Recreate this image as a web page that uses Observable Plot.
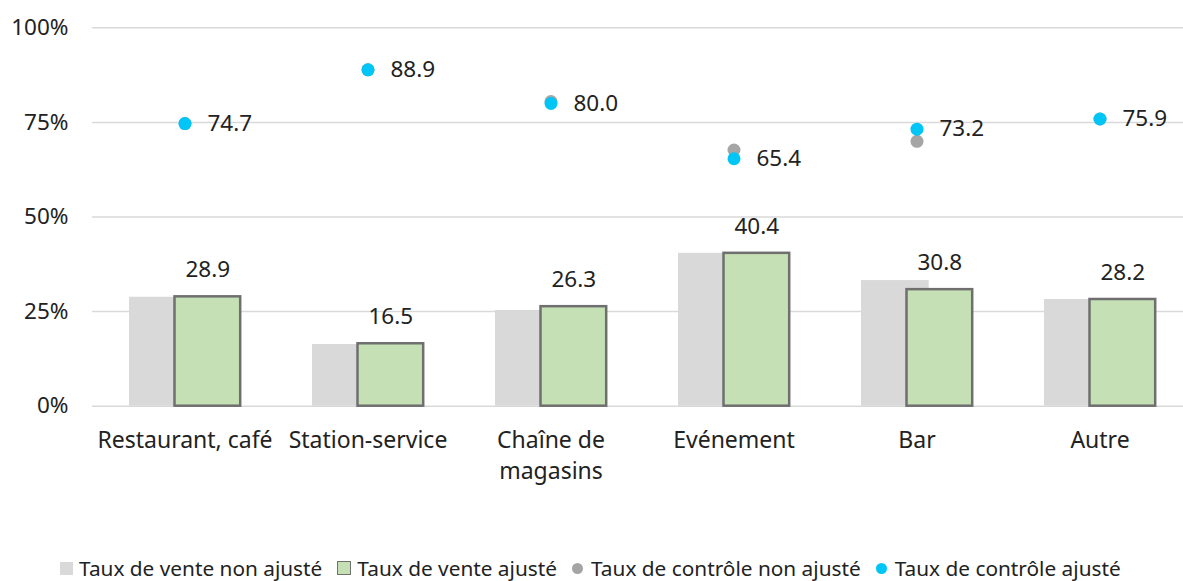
<!DOCTYPE html>
<html><head><meta charset="utf-8">
<script src="https://cdn.jsdelivr.net/npm/d3@7"></script>
<script src="https://cdn.jsdelivr.net/npm/@observablehq/plot@0.6"></script>
<style>
body{margin:0;background:#fff;font-family:"Noto Sans",sans-serif;color:#222;}
#wrap{position:relative;width:1183px;height:581px;overflow:hidden;}
#legend{position:absolute;left:60px;top:555px;height:26px;line-height:26px;display:flex;align-items:center;font-size:20.8px;white-space:nowrap;}
.item{display:flex;align-items:center;margin-right:15px;}
.sw{display:inline-block;margin-right:6px;box-sizing:border-box;}
</style></head><body>
<div id="wrap"><div id="chart"></div><div id="legend"></div></div>
<script>
const categories = ["Restaurant, café", "Station-service", "Chaîne de\nmagasins", "Evénement", "Bar", "Autre"];
const venteNonAjuste = [28.8, 16.3, 25.3, 40.4, 33.2, 28.2];
const venteAjuste = [28.9, 16.5, 26.3, 40.4, 30.8, 28.2];
const controleNonAjuste = [74.7, 88.9, 80.5, 67.7, 70.0, 75.9];
const controleAjuste = [74.7, 88.9, 80.0, 65.4, 73.2, 75.9];
const yTicks = [0, 25, 50, 75, 100];
const seriesNames = ["Taux de vente non ajusté", "Taux de vente ajusté", "Taux de contrôle non ajusté", "Taux de contrôle ajusté"];

const rows = categories.map((c, i) => ({
  cat: c,
  venteNA: venteNonAjuste[i],
  venteA: venteAjuste[i],
  ctrlNA: controleNonAjuste[i],
  ctrlA: controleAjuste[i]
}));

const cGreyBar = "#d9d9d9", cGreen = "#c5e0b4", cEdge = "#6f6f6f", cGreyDot = "#a5a5a5", cCyan = "#00c5f7";

const chart = Plot.plot({
  width: 1183,
  height: 500,
  marginTop: 27.3,
  marginBottom: 94.3,
  marginLeft: 92,
  marginRight: 0,
  style: {fontFamily: '"Noto Sans", sans-serif', fontSize: "22px", color: "#222", background: "#fff"},
  x: {domain: categories, range: [92, 1192], padding: 0},
  y: {domain: [0, 100]},
  marks: [
    Plot.ruleY(yTicks, {stroke: "#d9d9d9", strokeWidth: 1.5}),
    Plot.axisY({ticks: yTicks, tickSize: 0, tickPadding: 24, tickFormat: d => d + "%", fontSize: 22.5, label: null}),
    Plot.axisX({tickSize: 0, tickPadding: 20, lineHeight: 1.35, fontSize: 23, label: null}),
    Plot.barY(rows, {x: "cat", y: "venteNA", fill: cGreyBar, insetLeft: 36, insetRight: 79.3}),
    Plot.barY(rows, {x: "cat", y: "venteA", fill: cGreen, stroke: cEdge, strokeWidth: 2.5, insetLeft: 81.5, insetRight: 35.8}),
    Plot.text(rows, {x: "cat", y: "venteA", text: d => d.venteA.toFixed(1), dx: 22.8, dy: -27, fontSize: 22.5, fill: "#222"}),
    Plot.dot(rows, {x: "cat", y: "ctrlNA", r: 6.5, fill: cGreyDot}),
    Plot.dot(rows, {x: "cat", y: "ctrlA", r: 6.5, fill: cCyan}),
    Plot.text(rows, {x: "cat", y: "ctrlA", text: d => d.ctrlA.toFixed(1), textAnchor: "start", dx: 22.4, fontSize: 22.5, fill: "#222"})
  ]
});
document.getElementById("chart").appendChild(chart);

const swatches = [
  `<span class="sw" style="width:13px;height:13px;background:${cGreyBar}"></span>`,
  `<span class="sw" style="width:14px;height:14px;background:${cGreen};border:1.5px solid ${cEdge}"></span>`,
  `<span class="sw" style="width:11px;height:11px;border-radius:50%;background:${cGreyDot};margin-right:8px"></span>`,
  `<span class="sw" style="width:11px;height:11px;border-radius:50%;background:${cCyan};margin-right:8px"></span>`
];
document.getElementById("legend").innerHTML = seriesNames.map((n, i) =>
  `<span class="item">${swatches[i]}<span>${n}</span></span>`).join("");
</script>
</body></html>
